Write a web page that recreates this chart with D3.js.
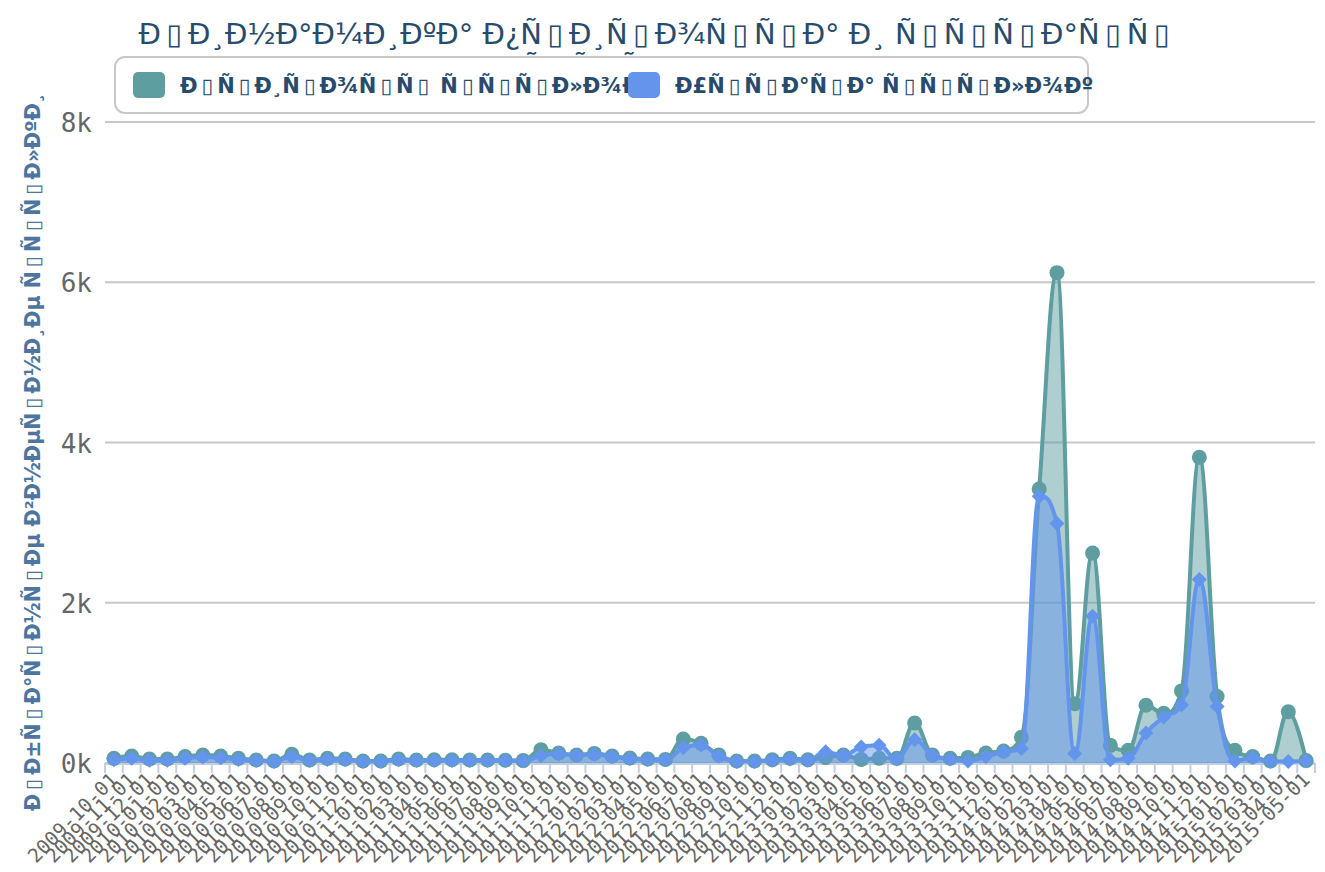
<!DOCTYPE html>
<html>
<head>
<meta charset="utf-8">
<script src="https://cdn.jsdelivr.net/npm/d3@7"></script>
<style>
  html, body { margin: 0; padding: 0; background: #fff; }
  svg { display: block; }
</style>
</head>
<body>
<div id="chart"></div>
<script>
// the source page shows UTF-8 Russian read as Latin-1, so the labels are kept that way;
// the C1 bytes have no glyph and show up as empty boxes
let BOX = '\u25AF'
let mojibake = s => Array.from(new TextEncoder().encode(s), b => (b >= 0x80 && b < 0xa0) ? BOX : String.fromCharCode(b)).join('')

let titleLines = [ 'Динамика прироста и утраты', 'ссылок' ]
let yTitle = 'Обратные внешние ссылки'
let seriesNames = [ 'Прирост ссылок', 'Утрата ссылок' ]
let seriesColors = [ '#5F9EA0', '#6495ED' ]

let months = [
  '2009-10-01', '2009-11-01', '2009-12-01', '2010-01-01', '2010-02-01', '2010-03-01',
  '2010-04-01', '2010-05-01', '2010-06-01', '2010-07-01', '2010-08-01', '2010-09-01',
  '2010-10-01', '2010-11-01', '2010-12-01', '2011-01-01', '2011-02-01', '2011-03-01',
  '2011-04-01', '2011-05-01', '2011-06-01', '2011-07-01', '2011-08-01', '2011-09-01',
  '2011-10-01', '2011-11-01', '2011-12-01', '2012-01-01', '2012-02-01', '2012-03-01',
  '2012-04-01', '2012-05-01', '2012-06-01', '2012-07-01', '2012-08-01', '2012-09-01',
  '2012-10-01', '2012-11-01', '2012-12-01', '2013-01-01', '2013-02-01', '2013-03-01',
  '2013-04-01', '2013-05-01', '2013-06-01', '2013-07-01', '2013-08-01', '2013-09-01',
  '2013-10-01', '2013-11-01', '2013-12-01', '2014-01-01', '2014-02-01', '2014-03-01',
  '2014-04-01', '2014-05-01', '2014-06-01', '2014-07-01', '2014-08-01', '2014-09-01',
  '2014-10-01', '2014-11-01', '2014-12-01', '2015-01-01', '2015-02-01', '2015-03-01',
  '2015-04-01', '2015-05-01'
]

let gained = [
  58, 87, 50, 50, 80, 100, 87, 58, 37, 25, 110, 37,
  58, 50, 25, 25, 50, 37, 40, 40, 37, 37, 35, 30,
  165, 125, 100, 120, 87, 62, 50, 45, 300, 245, 100, 25,
  25, 40, 60, 40, 70, 100, 45, 60, 58, 500, 100, 60,
  70, 125, 150, 320, 3420, 6120, 740, 2620, 220, 160, 720, 620,
  900, 3815, 830, 160, 80, 25, 640, 30
]

let lost = [
  40, 60, 35, 35, 60, 75, 65, 45, 30, 20, 80, 30,
  45, 40, 20, 20, 40, 30, 30, 30, 30, 30, 30, 25,
  90, 115, 95, 110, 80, 55, 45, 40, 190, 225, 85, 20,
  20, 35, 50, 35, 140, 95, 200, 220, 50, 290, 95, 50,
  25, 80, 140, 180, 3330, 2990, 120, 1830, 40, 60, 375, 575,
  725, 2290, 705, 25, 70, 20, 20, 25
]

let yTicks = [ 0, 2000, 4000, 6000, 8000 ]

let width = 1325
let height = 872
let plot = { left: 105, right: 1315, top: 122, bottom: 763 }

// spline like the old charting lib: smoothing 1.5, no false extremes
function HcSpline (context) { this._context = context }
HcSpline.prototype = {
  areaStart () { this._line = 0 },
  areaEnd () { this._line = NaN },
  lineStart () { this._pts = [] },
  point (x, y) { this._pts.push([ +x, +y ]) },
  lineEnd () {
    let p = this._pts
    let c = this._context
    let n = p.length
    let sm = 1.5
    let den = sm + 1
    let rc = []
    for (let i = 0; i < n; i++) {
      let [ x, y ] = p[ i ]
      let lx = x, ly = y, rx = x, ry = y
      if (i > 0 && i < n - 1) {
        let [ px, py ] = p[ i - 1 ]
        let [ nx, ny ] = p[ i + 1 ]
        lx = (sm * x + px) / den
        ly = (sm * y + py) / den
        rx = (sm * x + nx) / den
        ry = (sm * y + ny) / den
        let corr = ((ry - ly) * (rx - x)) / (rx - lx) + y - ry
        ly += corr
        ry += corr
        if (ly > py && ly > y) { ly = Math.max(py, y); ry = 2 * y - ly } else if (ly < py && ly < y) { ly = Math.min(py, y); ry = 2 * y - ly }
        if (ry > ny && ry > y) { ry = Math.max(ny, y); ly = 2 * y - ry } else if (ry < ny && ry < y) { ry = Math.min(ny, y); ly = 2 * y - ry }
      }
      rc[ i ] = [ rx, ry ]
      if (i === 0) {
        if (this._line) c.lineTo(x, y)
        else c.moveTo(x, y)
      } else {
        c.bezierCurveTo(rc[ i - 1 ][ 0 ], rc[ i - 1 ][ 1 ], lx, ly, x, y)
      }
    }
    if (this._line || (this._line !== 0 && n === 1)) c.closePath()
    this._line = 1 - this._line
  }
}
let curveHc = context => new HcSpline(context)

// writes garbled text, giving the box glyphs the wider advance they had in the source
function garbled (sel, s) {
  let runs = mojibake(s).match(new RegExp(BOX + '+|[^' + BOX + ']+', 'g'))
  runs.forEach(r => {
    let t = sel.append('tspan').text(r)
    if (r[ 0 ] === BOX) {
      t.attr('dx', '0.19em').style('letter-spacing', '0.19em')
    }
  })
  return sel
}

let svg = d3.select('#chart').append('svg')
  .attr('width', width)
  .attr('height', height)
  .style('font-family', '"DejaVu Sans", Verdana, sans-serif')

let x = d3.scaleBand()
  .domain(months)
  .range([ plot.left, plot.right ])
let y = d3.scaleLinear()
  .domain([ 0, 8000 ])
  .range([ plot.bottom, plot.top ])
let cx = d => x(d) + x.bandwidth() / 2

// grid
svg.append('g')
  .selectAll('line')
  .data(yTicks)
  .enter()
  .append('line')
  .attr('x1', plot.left)
  .attr('x2', plot.right)
  .attr('y1', d => y(d))
  .attr('y2', d => y(d))
  .attr('stroke', '#c8c8c8')
  .attr('stroke-width', 2)

// y labels
svg.append('g')
  .selectAll('text')
  .data(yTicks)
  .enter()
  .append('text')
  .attr('x', 92)
  .attr('y', d => y(d) + 10)
  .attr('text-anchor', 'end')
  .attr('fill', '#666')
  .style('font-family', '"DejaVu Sans Mono", monospace')
  .style('font-size', '26px')
  .text(d => d3.format('d')(d / 1000) + 'k')

// x axis line and ticks
let xAxis = svg.append('g')
xAxis.append('line')
  .attr('x1', plot.left)
  .attr('x2', plot.right)
  .attr('y1', plot.bottom + 1)
  .attr('y2', plot.bottom + 1)
  .attr('stroke', '#C0D0E0')
  .attr('stroke-width', 2)
xAxis.selectAll('.tick')
  .data(months.concat([ null ]))
  .enter()
  .append('line')
  .attr('class', 'tick')
  .attr('x1', (d, i) => plot.left + i * x.step())
  .attr('x2', (d, i) => plot.left + i * x.step())
  .attr('y1', plot.bottom)
  .attr('y2', plot.bottom + 10)
  .attr('stroke', '#C0D0E0')
  .attr('stroke-width', 2)
xAxis.selectAll('.xlab')
  .data(months)
  .enter()
  .append('text')
  .attr('class', 'xlab')
  .attr('text-anchor', 'end')
  .attr('fill', '#666')
  .style('font-family', '"DejaVu Sans Mono", monospace')
  .style('font-size', '19.5px')
  .attr('transform', d => 'translate(' + (cx(d) + 5) + ',' + (plot.bottom + 18) + ') rotate(-45)')
  .text(d => d)

// series
let series = [ gained, lost ]
let area = d3.area()
  .x((d, i) => cx(months[ i ]))
  .y0(y(0))
  .y1(d => y(d))
  .curve(curveHc)
let line = d3.line()
  .x((d, i) => cx(months[ i ]))
  .y(d => y(d))
  .curve(curveHc)

series.forEach((vals, k) => {
  let g = svg.append('g')
  g.append('path')
    .attr('d', area(vals))
    .attr('fill', seriesColors[ k ])
    .attr('fill-opacity', 0.5)
  g.append('path')
    .attr('d', line(vals))
    .attr('fill', 'none')
    .attr('stroke', seriesColors[ k ])
    .attr('stroke-width', 4)
    .attr('stroke-linejoin', 'round')
    .attr('stroke-linecap', 'round')
  let r = 7.5
  if (k === 0) {
    g.selectAll('circle')
      .data(vals)
      .enter()
      .append('circle')
      .attr('cx', (d, i) => cx(months[ i ]))
      .attr('cy', d => y(d))
      .attr('r', r)
      .attr('fill', seriesColors[ k ])
  } else {
    g.selectAll('path.mk')
      .data(vals)
      .enter()
      .append('path')
      .attr('class', 'mk')
      .attr('d', (d, i) => {
        let px = cx(months[ i ])
        let py = y(d)
        return 'M' + px + ',' + (py - r) + 'L' + (px + r) + ',' + py + 'L' + px + ',' + (py + r) + 'L' + (px - r) + ',' + py + 'Z'
      })
      .attr('fill', seriesColors[ k ])
  }
})

// y axis title
garbled(svg.append('text')
  .attr('transform', 'translate(40,452) rotate(-90)')
  .attr('text-anchor', 'middle')
  .attr('fill', '#4d759e')
  .style('font-size', '20.5px')
  .style('font-weight', 'bold'), yTitle)

// title
let title = svg.append('text')
  .attr('text-anchor', 'middle')
  .attr('fill', '#274b6d')
  .style('font-size', '29px')
titleLines.forEach((t, i) => {
  garbled(title.append('tspan')
    .attr('x', 657)
    .attr('y', 44 + i * 34), t)
})

// legend
let legend = svg.append('g')
legend.append('rect')
  .attr('x', 115)
  .attr('y', 57)
  .attr('width', 973)
  .attr('height', 56)
  .attr('rx', 10)
  .attr('fill', '#fff')
  .attr('stroke', '#c8c8c8')
  .attr('stroke-width', 2)
let itemX = [ 133, 628 ]
seriesNames.forEach((name, i) => {
  garbled(legend.append('text')
    .attr('x', itemX[ i ] + 47)
    .attr('y', 93)
    .attr('fill', '#274b6d')
    .style('font-size', '21px')
    .style('font-weight', 'bold'), name)
})
seriesNames.forEach((name, i) => {
  legend.append('rect')
    .attr('x', itemX[ i ])
    .attr('y', 72)
    .attr('width', 32)
    .attr('height', 26)
    .attr('rx', 5)
    .attr('fill', seriesColors[ i ])
})
</script>
</body>
</html>
